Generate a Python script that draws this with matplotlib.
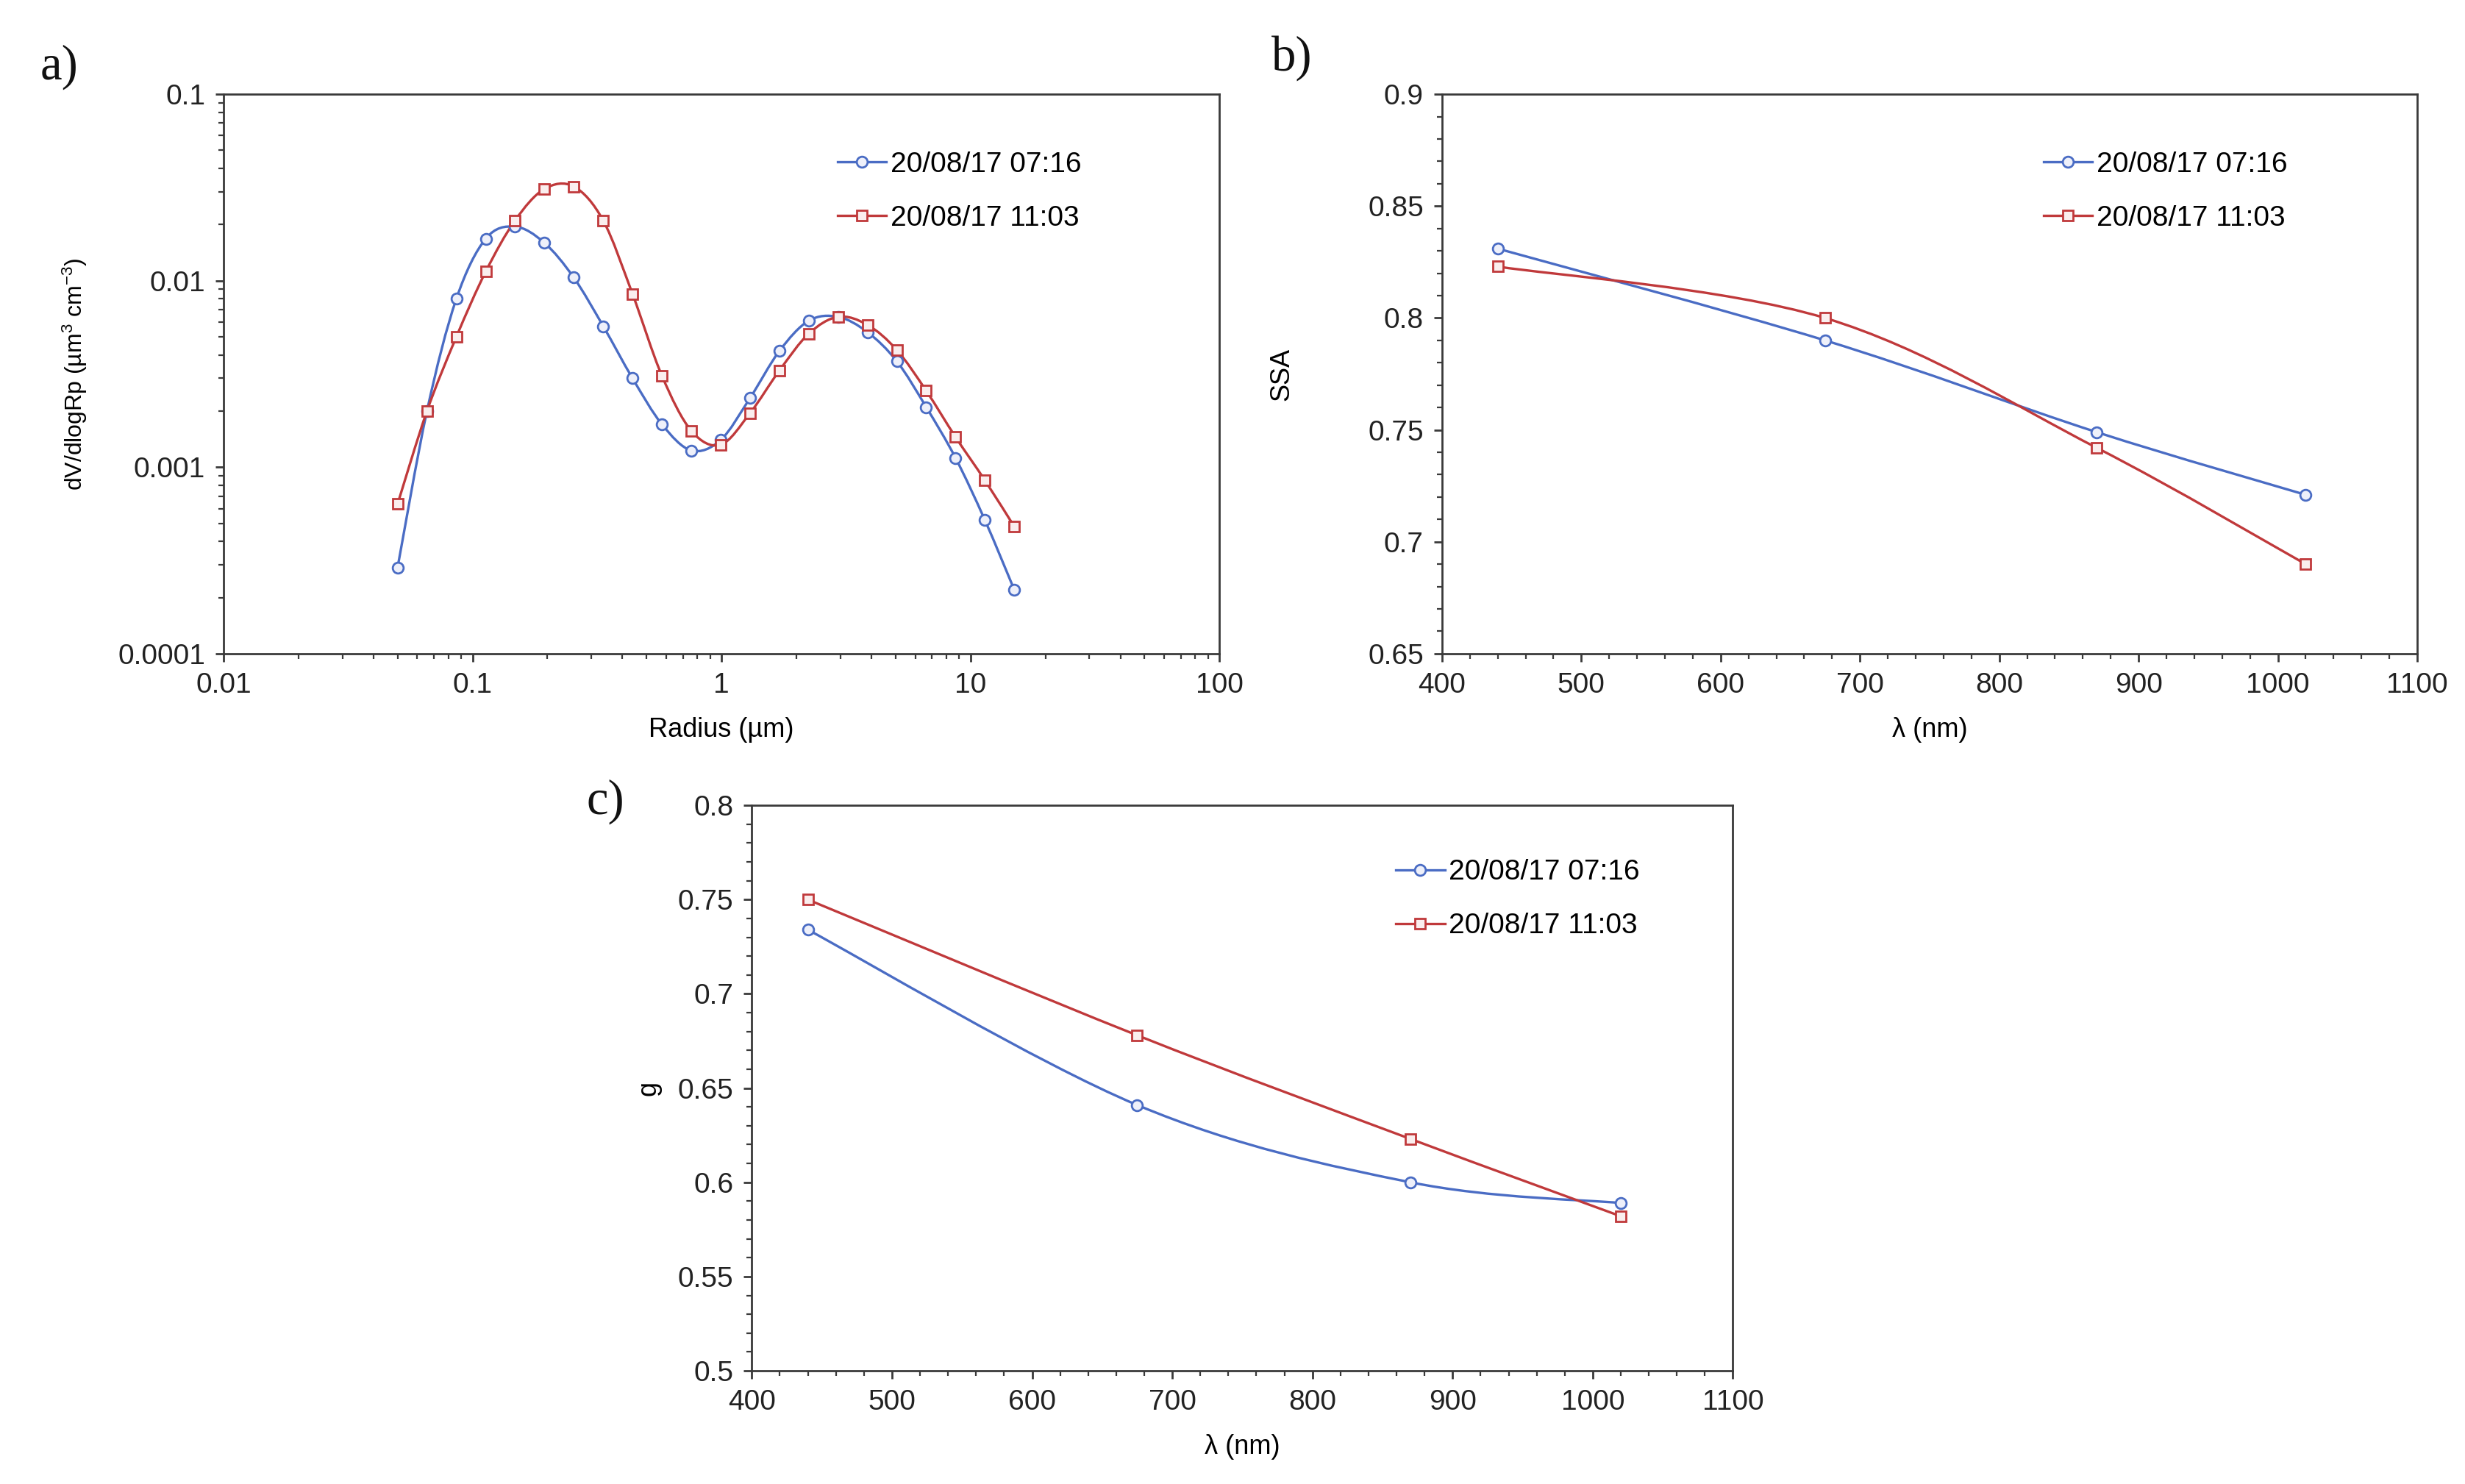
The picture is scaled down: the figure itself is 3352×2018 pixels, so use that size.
import numpy as np
import matplotlib
matplotlib.use("Agg")
import matplotlib.pyplot as plt
from matplotlib.path import Path
from matplotlib.patches import PathPatch
from matplotlib.lines import Line2D
from matplotlib.ticker import FuncFormatter, MultipleLocator, LogLocator, NullFormatter

plt.rcParams['font.family'] = ['Liberation Sans', 'DejaVu Sans']
plt.rcParams['mathtext.fontset'] = 'custom'
plt.rcParams['mathtext.rm'] = 'Liberation Sans'
plt.rcParams['mathtext.it'] = 'Liberation Sans:italic'
plt.rcParams['mathtext.default'] = 'regular'

# --- data ---
labels = ['20/08/17 07:16', '20/08/17 11:03']

radius = [0.05, 0.0656, 0.0861, 0.113, 0.148, 0.194, 0.255, 0.335, 0.439, 0.576, 0.756,
          0.992, 1.302, 1.708, 2.241, 2.94, 3.857, 5.061, 6.641, 8.713, 11.432, 15.0]
vsd_0716 = [2.9e-4, 2.0e-3, 8.0e-3, 1.68e-2, 1.95e-2, 1.6e-2, 1.04e-2, 5.7e-3, 3.0e-3, 1.7e-3, 1.23e-3,
            1.4e-3, 2.35e-3, 4.2e-3, 6.1e-3, 6.4e-3, 5.3e-3, 3.7e-3, 2.1e-3, 1.12e-3, 5.2e-4, 2.2e-4]
vsd_1103 = [6.35e-4, 2.0e-3, 5.0e-3, 1.12e-2, 2.1e-2, 3.1e-2, 3.2e-2, 2.1e-2, 8.5e-3, 3.1e-3, 1.57e-3,
            1.32e-3, 1.95e-3, 3.3e-3, 5.2e-3, 6.4e-3, 5.8e-3, 4.25e-3, 2.57e-3, 1.45e-3, 8.5e-4, 4.8e-4]

wavelength = [440, 675, 870, 1020]
ssa_0716 = [0.831, 0.790, 0.749, 0.721]
ssa_1103 = [0.823, 0.800, 0.742, 0.690]
g_0716 = [0.734, 0.641, 0.600, 0.589]
g_1103 = [0.750, 0.678, 0.623, 0.582]

blue = '#4a6cc4'
red = '#c0393b'
FS = 14


def smooth_path(x, y, logscale=False):
    # Excel-style smoothed line: cubic bezier through the points
    x = np.asarray(x, float)
    y = np.asarray(y, float)
    if logscale:
        x, y = np.log10(x), np.log10(y)
    p = np.column_stack([x, y])
    p_ext = np.vstack([p[0], p, p[-1]])
    verts = [p[0]]
    codes = [Path.MOVETO]
    for i in range(len(p) - 1):
        p0, p1, p2, p3 = p_ext[i], p_ext[i + 1], p_ext[i + 2], p_ext[i + 3]
        c1 = p1 + (p2 - p0) / 6.0
        c2 = p2 - (p3 - p1) / 6.0
        verts += [c1, c2, p2]
        codes += [Path.CURVE4] * 3
    verts = np.array(verts)
    if logscale:
        verts = 10 ** verts
    return Path(verts, codes)


def draw_series(ax, x, y, color, marker, logscale=False):
    ax.add_patch(PathPatch(smooth_path(x, y, logscale), facecolor='none',
                           edgecolor=color, lw=1.2, zorder=2))
    ax.plot(x, y, linestyle='none', marker=marker, markersize=5.3,
            markerfacecolor='#eef0fa' if color == blue else '#faeeee',
            markeredgecolor=color, markeredgewidth=1.0, zorder=3)


def style_axes(ax):
    for s in ax.spines.values():
        s.set_color('#3a3a3a')
        s.set_linewidth(1.0)
    ax.tick_params(which='major', direction='out', length=4, width=1.0,
                   color='#3a3a3a', labelsize=FS, labelcolor='#222222', pad=5)
    ax.tick_params(which='minor', direction='out', length=2.5, width=0.8, color='#3a3a3a')


def add_legend(ax, anchor):
    handles = [Line2D([], [], color=blue, lw=1.2, marker='o', markersize=5.3,
                      markerfacecolor='#eef0fa', markeredgecolor=blue),
               Line2D([], [], color=red, lw=1.2, marker='s', markersize=5.3,
                      markerfacecolor='#faeeee', markeredgecolor=red)]
    ax.legend(handles, labels, loc='upper left', bbox_to_anchor=anchor, frameon=False,
              fontsize=FS, handlelength=1.7, handletextpad=0.15, labelspacing=0.95,
              borderaxespad=0)


fig = plt.figure(figsize=(16.76, 10.09), dpi=200)

# a) volume size distribution
ax_a = fig.add_axes([0.0907, 0.5595, 0.404, 0.377])
draw_series(ax_a, radius, vsd_0716, blue, 'o', logscale=True)
draw_series(ax_a, radius, vsd_1103, red, 's', logscale=True)
ax_a.set_xscale('log')
ax_a.set_yscale('log')
ax_a.set_xlim(0.01, 100)
ax_a.set_ylim(1e-4, 0.1)
fmt = FuncFormatter(lambda v, pos: '{:g}'.format(v))
ax_a.xaxis.set_major_formatter(fmt)
ax_a.yaxis.set_major_formatter(fmt)
ax_a.xaxis.set_minor_locator(LogLocator(base=10, subs=np.arange(2, 10)))
ax_a.yaxis.set_minor_locator(LogLocator(base=10, subs=np.arange(2, 10)))
ax_a.xaxis.set_minor_formatter(NullFormatter())
ax_a.yaxis.set_minor_formatter(NullFormatter())
style_axes(ax_a)
ax_a.set_xlabel('Radius (µm)', fontsize=13, labelpad=9)
ax_a.set_ylabel('dV/dlogRp (µm$^3$ cm$^{-3}$)', fontsize=11.5, labelpad=14)
add_legend(ax_a, (0.605, 0.918))

# b) single scattering albedo
ax_b = fig.add_axes([0.585, 0.5595, 0.3956, 0.377])
draw_series(ax_b, wavelength, ssa_0716, blue, 'o')
draw_series(ax_b, wavelength, ssa_1103, red, 's')
ax_b.set_xlim(400, 1100)
ax_b.set_ylim(0.65, 0.9)
ax_b.xaxis.set_major_locator(MultipleLocator(100))
ax_b.xaxis.set_minor_locator(MultipleLocator(20))
ax_b.yaxis.set_major_locator(MultipleLocator(0.05))
ax_b.yaxis.set_minor_locator(MultipleLocator(0.01))
ax_b.yaxis.set_major_formatter(fmt)
style_axes(ax_b)
ax_b.set_xlabel('λ (nm)', fontsize=13, labelpad=9)
ax_b.set_ylabel('SSA', fontsize=13, labelpad=36)
add_legend(ax_b, (0.605, 0.918))

# c) asymmetry parameter
ax_c = fig.add_axes([0.305, 0.0763, 0.398, 0.381])
draw_series(ax_c, wavelength, g_0716, blue, 'o')
draw_series(ax_c, wavelength, g_1103, red, 's')
ax_c.set_xlim(400, 1100)
ax_c.set_ylim(0.5, 0.8)
ax_c.xaxis.set_major_locator(MultipleLocator(100))
ax_c.xaxis.set_minor_locator(MultipleLocator(20))
ax_c.yaxis.set_major_locator(MultipleLocator(0.05))
ax_c.yaxis.set_minor_locator(MultipleLocator(0.01))
ax_c.yaxis.set_major_formatter(fmt)
style_axes(ax_c)
ax_c.set_xlabel('λ (nm)', fontsize=13, labelpad=9)
ax_c.set_ylabel('g', fontsize=13, labelpad=8)
add_legend(ax_c, (0.645, 0.925))

# panel letters
for txt, x, y in [('a)', 0.024, 0.955), ('b)', 0.524, 0.961), ('c)', 0.2455, 0.46)]:
    fig.text(x, y, txt, fontsize=24, family=['Liberation Serif', 'DejaVu Serif'],
             ha='center', va='center', color='#111111')

fig.savefig('out.png', dpi=200, facecolor='white')
